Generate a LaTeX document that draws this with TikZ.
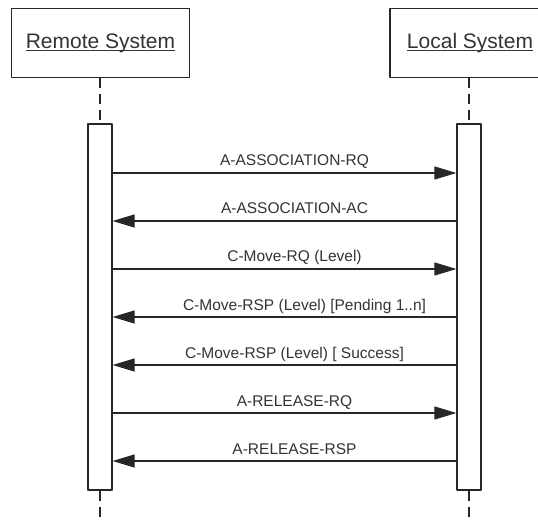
\documentclass[tikz,border=0pt]{standalone}
\usepackage{fontspec}
\setmainfont{Liberation Sans}
\usetikzlibrary{arrows.meta}
\newcommand{\titleul}[1]{\setbox0\hbox{#1}\rlap{\rule[-2.5pt]{\wd0}{0.9pt}}\box0}
\begin{document}
\begin{tikzpicture}[x=1pt, y=-1pt, line join=round, >={Triangle[length=22pt, width=13pt]},
		actor/.style={draw=black!85, line width=1.3pt, minimum height=69pt, inner xsep=14.5pt, font=\fontsize{21}{24}\selectfont, text=black!80},
		bar/.style={draw=black!85, line width=1.2pt, fill=white, minimum width=24pt, minimum height=366pt, inner sep=0pt},
		life/.style={draw=black!85, line width=1.2pt, dash pattern=on 10pt off 6pt},
		msg/.style={draw=black!85, line width=1.2pt, ->},
		lbl/.style={anchor=base, yshift=7pt, xshift=10pt, inner sep=0pt, font=\fontsize{15.5}{18}\selectfont, text=black!80}]
			\useasboundingbox (0,0) rectangle (538,521);
			\node[actor] (remote) at (100.5,43) {\titleul{Remote System}};
			\node[actor, minimum width=160pt] (local) at (470,43) {\titleul{Local System}};
			\node[bar] (rbar) at (100,307) {};
			\node[bar] (lbar) at (469,307) {};
			\coordinate (rend) at (100,521);
			\coordinate (lend) at (469,521);
			\draw[life] (remote.south -| rbar) -- (rbar.north);
			\draw[life] (local.south -| lbar) -- (lbar.north);
			\draw[life] (rbar.south) -- (rend);
			\draw[life] (lbar.south) -- (lend);
			\draw[msg] (rbar.east |- 0,173) -- (lbar.west |- 0,173) node[lbl, pos=0.5] {A-ASSOCIATION-RQ};
			\draw[msg] (lbar.west |- 0,221) -- (rbar.east |- 0,221) node[lbl, pos=0.5] {A-ASSOCIATION-AC};
			\draw[msg] (rbar.east |- 0,269) -- (lbar.west |- 0,269) node[lbl, pos=0.5] {C-Move-RQ (Level)};
			\draw[msg] (lbar.west |- 0,317) -- (rbar.east |- 0,317) node[lbl, pos=0.5, xshift=10pt] {C-Move-RSP (Level) [Pending 1..n]};
			\draw[msg] (lbar.west |- 0,365) -- (rbar.east |- 0,365) node[lbl, pos=0.5] {C-Move-RSP (Level) [ Success]};
			\draw[msg] (rbar.east |- 0,413) -- (lbar.west |- 0,413) node[lbl, pos=0.5] {A-RELEASE-RQ};
			\draw[msg] (lbar.west |- 0,461) -- (rbar.east |- 0,461) node[lbl, pos=0.5] {A-RELEASE-RSP};
		\end{tikzpicture}
\end{document}
